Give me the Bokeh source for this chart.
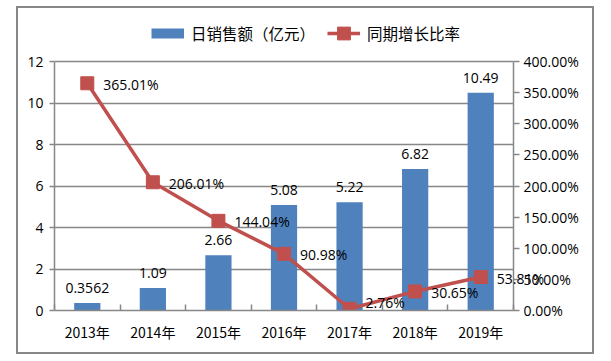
import numpy as np
from bokeh.plotting import figure
from bokeh.models import (Range1d, LinearAxis, FixedTicker, PrintfTickFormatter,
                          Legend, LegendItem, ColumnDataSource, Label, CDSView, IndexFilter)
from bokeh.core.properties import value
from bokeh.embed import file_html
from bokeh.resources import INLINE

years = ["2013年", "2014年", "2015年", "2016年", "2017年", "2018年", "2019年"]
sales = [0.3562, 1.09, 2.66, 5.08, 5.22, 6.82, 10.49]
rates = [365.01, 206.01, 144.04, 90.98, 2.76, 30.65, 53.81]
left_ticks = [0, 2, 4, 6, 8, 10, 12]
right_ticks = [0, 50, 100, 150, 200, 250, 300, 350, 400]

BLUE = "#4F81BD"
RED = "#C0504D"
GRAY = "#878787"
FONT = "Open Sans"
CJK = "Noto Sans CJK SC"

# layout (pixels)
W, H = 590, 360
MB_L, MB_R, MB_T, MB_B = 44, 87, 21, 50
FRAME_H = H - MB_T - MB_B          # frame also holds the legend strip on top
AXIS_H = 249                        # height of the value axes inside the frame
scale_up = FRAME_H / AXIS_H

xs = np.arange(len(years)) + 0.5
rlab = [f"{v:.2f}%" for v in rates]
# keep labels that sit on the x axis inside the frame (positive offset = down)
rate_px = np.array(rates) / right_ticks[-1] * AXIS_H
yoff = np.minimum(1.0, rate_px - 8.0)
src = ColumnDataSource(dict(
    x=xs, sales=sales, rates=rates,
    slab=[str(v) for v in sales],
    rlab=rlab, yoff=yoff,
))

p = figure(width=W, height=H, output_backend="svg", toolbar_location=None,
           x_range=Range1d(0, len(years)),
           y_range=Range1d(left_ticks[0], left_ticks[-1] * scale_up),
           min_border_left=MB_L, min_border_right=MB_R,
           min_border_top=MB_T, min_border_bottom=MB_B)
p.margin = (0, 0, 0, 10)
p.outline_line_color = None
p.border_fill_alpha = 0
p.styles = {"outline": f"2px solid {GRAY}", "outline-offset": "-8px"}
p.extra_y_ranges = {"pct": Range1d(right_ticks[0], right_ticks[-1] * scale_up)}

# axes
p.xaxis.ticker = FixedTicker(ticks=list(xs), minor_ticks=list(range(len(years) + 1)))
p.xaxis.major_label_overrides = {float(x): y for x, y in zip(xs, years)}
p.xaxis.major_tick_line_color = None
p.xaxis.major_tick_out = 0
p.xaxis.major_tick_in = 0
p.xaxis.minor_tick_line_color = GRAY
p.xaxis.minor_tick_line_width = 1.5
p.xaxis.minor_tick_in = 6
p.xaxis.minor_tick_out = 0
p.xaxis.axis_line_color = GRAY
p.xaxis.axis_line_width = 1.5
p.xaxis.major_label_text_font = CJK
p.xaxis.major_label_text_font_size = "14px"
p.xaxis.major_label_text_color = "black"
p.xaxis.major_label_standoff = 11

p.yaxis.ticker = FixedTicker(ticks=left_ticks)
p.yaxis.bounds = (left_ticks[0], left_ticks[-1])
p.yaxis.minor_tick_line_color = None
p.yaxis.major_tick_in = 0
p.yaxis.major_tick_out = 5
p.yaxis.major_tick_line_color = GRAY
p.yaxis.major_tick_line_width = 1.5
p.yaxis.axis_line_color = GRAY
p.yaxis.axis_line_width = 1.5
p.yaxis.major_label_text_font = FONT
p.yaxis.major_label_text_font_size = "14px"
p.yaxis.major_label_text_color = "black"
p.yaxis.major_label_standoff = 6

raxis = LinearAxis(y_range_name="pct", ticker=FixedTicker(ticks=right_ticks),
                   formatter=PrintfTickFormatter(format="%.2f%%"),
                   bounds=(right_ticks[0], right_ticks[-1]))
raxis.minor_tick_line_color = None
raxis.major_tick_in = 0
raxis.major_tick_out = 6
raxis.major_tick_line_color = GRAY
raxis.major_tick_line_width = 1.5
raxis.axis_line_color = GRAY
raxis.axis_line_width = 1.5
raxis.major_label_text_font = FONT
raxis.major_label_text_font_size = "14px"
raxis.major_label_text_color = "black"
raxis.major_label_standoff = 4
p.add_layout(raxis, "right")

p.xgrid.grid_line_color = None
p.ygrid.ticker = FixedTicker(ticks=left_ticks[1:])
p.ygrid.grid_line_color = GRAY
p.ygrid.grid_line_width = 1.5

# data
p.vbar(x="x", top="sales", width=0.4, source=src, fill_color=BLUE, line_color=None)
line_r = p.line(x="x", y="rates", source=src, y_range_name="pct", line_color=RED, line_width=3.5)
mark_r = p.scatter(x="x", y="rates", source=src, y_range_name="pct", marker="square", size=13,
                   fill_color=RED, line_color=RED)

p.text(x="x", y="sales", text="slab", source=src, text_align="center",
       text_baseline="alphabetic", y_offset=-15, text_font=value(FONT),
       text_font_size="14px", text_color="black")

last = len(rates) - 1
p.text(x="x", y="rates", text="rlab", source=src, y_range_name="pct",
       view=CDSView(filter=IndexFilter(list(range(last)))),
       text_align="left", text_baseline="middle", x_offset=16, y_offset="yoff",
       text_font=value(FONT), text_font_size="14px", text_color="black")
# the last rate label runs past the frame over the right axis: side-panel annotation
p.add_layout(Label(x=xs[last], y=rates[last], text=rlab[last], y_range_name="pct",
                   x_offset=16, y_offset=-1, text_align="left", text_baseline="middle",
                   text_font=FONT, text_font_size="14px", text_color="black"), "above")

# legend (dummy renderer only for the bar's legend swatch)
leg_bar = p.line(x=[np.nan], y=[np.nan], line_color=BLUE, line_width=10, line_cap="butt")
legend = Legend(items=[LegendItem(label="日销售额（亿元）", renderers=[leg_bar]),
                       LegendItem(label="同期增长比率", renderers=[line_r, mark_r])],
                orientation="horizontal", location=(97, FRAME_H - 28),
                glyph_width=33, glyph_height=32, label_standoff=7, spacing=12,
                padding=0, margin=0, border_line_color=None, background_fill_alpha=0,
                label_text_font=CJK, label_text_font_size="15.5px", label_text_color="black")
p.add_layout(legend, "center")

open("out.html", "w").write(file_html(p, INLINE))
